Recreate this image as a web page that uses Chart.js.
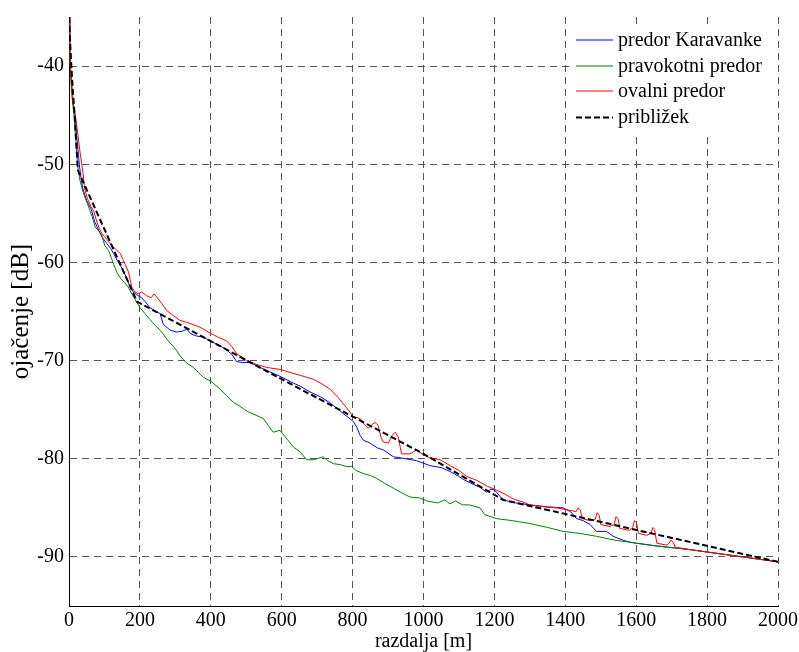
<!DOCTYPE html>
<html>
<head>
<meta charset="utf-8">
<script src="https://cdn.jsdelivr.net/npm/chart.js@4/dist/chart.umd.min.js"></script>
<style>
  html, body { margin: 0; padding: 0; background: #fff; }
  #wrap { width: 799px; height: 652px; }
</style>
</head>
<body>
<div id="wrap"><canvas id="c" width="799" height="652"></canvas></div>
<script>
// ---- data ----
const xTicks = [0, 200, 400, 600, 800, 1000, 1200, 1400, 1600, 1800, 2000];
const yTicks = [-90, -80, -70, -60, -50, -40];
const seriesLabels = ['predor Karavanke', 'pravokotni predor', 'ovalni predor', 'približek'];

const karavanke = [[0,-35],[2,-37.8],[5,-40.5],[10,-43],[17,-45.2],[23,-47.6],[29,-50],[34,-51.4],[39,-52.5],[50,-53.7],[63,-54.6],[72,-55.8],[82,-56.6],[93,-57.4],[107,-58.1],[118,-58.6],[126,-59.1],[136,-59.8],[145,-60.3],[155,-61.0],[165,-61.8],[172,-62.5],[181,-63.0],[191,-63.3],[205,-63.6],[215,-64.0],[228,-64.6],[245,-65.0],[257,-65.2],[266,-66.3],[285,-66.9],[304,-67.1],[320,-67.0],[332,-66.8],[345,-67.3],[360,-67.5],[379,-67.6],[398,-68.0],[426,-68.5],[445,-68.9],[460,-69.4],[473,-70.1],[490,-70.2],[511,-70.2],[539,-70.7],[570,-71.2],[595,-71.6],[633,-72.3],[652,-72.6],[680,-73.2],[710,-73.7],[736,-74.3],[774,-75.4],[802,-76.2],[812,-76.8],[821,-77.6],[830,-78.1],[849,-78.4],[870,-78.9],[887,-79.1],[915,-79.8],[934,-79.9],[981,-80.2],[1018,-80.7],[1050,-80.9],[1075,-81.3],[1100,-81.8],[1112,-82.1],[1140,-82.6],[1159,-82.9],[1178,-83.4],[1190,-83.1],[1201,-83.2],[1215,-83.8],[1225,-84.2],[1260,-84.5],[1300,-84.7],[1350,-84.9],[1394,-85.0],[1415,-85.4],[1432,-86.1],[1450,-86.3],[1470,-86.7],[1488,-87.4],[1516,-87.4],[1535,-87.9],[1563,-88.3],[1582,-88.5],[1600,-88.6],[1650,-88.85],[1700,-89.05],[1750,-89.25],[1800,-89.5],[1850,-89.75],[1900,-90.0],[1950,-90.25],[2000,-90.5]];

const pravokotni = [[0,-35],[2,-38.5],[4,-40.5],[8,-43],[14,-45],[19,-47.5],[24,-50],[30,-51.5],[37,-52.5],[45,-53.4],[57,-54.5],[65,-55.3],[74,-56.4],[84,-56.8],[93,-57.3],[101,-58.3],[112,-58.8],[120,-59.6],[126,-60.2],[135,-61.0],[145,-61.6],[155,-62.0],[167,-62.5],[177,-63.2],[190,-64.0],[200,-64.6],[214,-65.2],[228,-65.8],[240,-66.3],[257,-66.9],[266,-67.3],[280,-68.0],[295,-68.6],[304,-69.0],[313,-69.5],[330,-70.2],[351,-70.7],[365,-71.2],[379,-71.7],[400,-72.1],[426,-72.9],[445,-73.6],[465,-74.3],[480,-74.6],[495,-75.0],[510,-75.3],[530,-75.6],[548,-75.9],[562,-76.6],[576,-77.3],[595,-77.1],[615,-78.0],[633,-78.8],[652,-79.3],[670,-80.1],[689,-80.1],[700,-80.0],[717,-79.8],[730,-80.2],[746,-80.5],[765,-80.6],[783,-80.8],[797,-80.8],[810,-81.2],[830,-81.5],[850,-81.7],[868,-82.0],[890,-82.5],[915,-83.0],[940,-83.5],[962,-83.9],[990,-84.0],[1010,-84.3],[1040,-84.5],[1060,-84.2],[1075,-84.6],[1090,-84.3],[1110,-84.7],[1130,-84.7],[1159,-85.0],[1173,-85.7],[1206,-86.1],[1250,-86.3],[1300,-86.6],[1350,-87.0],[1394,-87.4],[1440,-87.6],[1488,-87.9],[1540,-88.3],[1582,-88.5],[1600,-88.6],[1650,-88.85],[1700,-89.05],[1750,-89.25],[1800,-89.5],[1850,-89.75],[1900,-90.0],[1950,-90.25],[2000,-90.5]];

const ovalni = [[0,-35],[2,-37.5],[4,-40],[8,-42.5],[12,-44],[18,-45],[25,-47],[30,-48.5],[36,-50],[40,-51],[44,-52.5],[52,-53.5],[62,-54.3],[70,-54.8],[78,-55.8],[86,-56.6],[95,-57.2],[101,-57.4],[112,-57.9],[121,-58.3],[133,-58.7],[145,-59.1],[152,-59.7],[159,-60.2],[168,-61.0],[177,-62.5],[186,-63.0],[195,-63.2],[205,-63.0],[219,-63.4],[232,-63.6],[240,-63.2],[247,-63.5],[262,-64.2],[276,-64.9],[290,-65.3],[313,-65.9],[340,-66.2],[370,-66.6],[398,-67.2],[420,-67.6],[445,-68.0],[460,-68.6],[473,-69.3],[501,-70.0],[530,-70.4],[558,-70.7],[595,-70.9],[623,-71.2],[652,-71.5],[689,-71.9],[710,-72.3],[736,-72.9],[760,-73.8],[783,-74.8],[802,-75.7],[821,-75.9],[835,-76.6],[844,-76.9],[855,-76.5],[863,-76.3],[872,-76.6],[880,-77.8],[887,-78.3],[901,-78.4],[912,-77.6],[920,-77.3],[929,-77.8],[938,-79.5],[962,-79.5],[981,-79.1],[1000,-79.6],[1018,-79.9],[1047,-80.1],[1075,-80.7],[1100,-81.2],[1122,-81.8],[1150,-82.2],[1180,-82.8],[1206,-83.2],[1230,-83.6],[1253,-84.1],[1280,-84.4],[1300,-84.7],[1340,-84.9],[1375,-85.0],[1404,-85.2],[1420,-85.3],[1430,-85.4],[1436,-85.0],[1442,-85.2],[1448,-86.1],[1470,-86.3],[1484,-86.2],[1490,-85.5],[1496,-85.8],[1500,-86.7],[1526,-86.9],[1538,-86.7],[1543,-85.9],[1549,-86.1],[1554,-87.1],[1582,-87.3],[1590,-87.0],[1595,-86.3],[1601,-86.5],[1606,-87.6],[1630,-87.8],[1642,-87.6],[1647,-87.0],[1652,-87.2],[1658,-88.6],[1686,-88.8],[1693,-88.6],[1698,-88.3],[1704,-88.5],[1710,-89.0],[1750,-89.25],[1800,-89.5],[1850,-89.75],[1900,-90.0],[1950,-90.25],[2000,-90.5]];

const priblizek = [[0,-35],[3,-37.5],[6.6,-40],[11,-42.6],[16,-45],[20,-47.6],[25,-50.6],[192,-64.0],[600,-71.9],[1000,-79.5],[1225,-84.2],[2000,-90.5]];

// ---- chart ----
const FONT = "'Liberation Serif', 'Times New Roman', serif";
const toPts = arr => arr.map(p => ({x: p[0], y: p[1]}));

const innerLegend = {
  id: 'innerLegend',
  afterDatasetsDraw(chart) {
    const ctx = chart.ctx;
    const ca = chart.chartArea;
    const bx = ca.right - 208, by = ca.top + 10, bw = 204, bh = 107;
    ctx.save();
    ctx.fillStyle = '#ffffff';
    ctx.fillRect(bx, by, bw, bh);
    ctx.font = '20px ' + FONT;
    ctx.textBaseline = 'middle';
    ctx.textAlign = 'left';
    const rowH = 25.7;
    chart.data.datasets.forEach((ds, i) => {
      const y = Math.round(by + 13 + i * rowH);
      ctx.save();
      ctx.beginPath();
      ctx.strokeStyle = ds.borderColor;
      ctx.lineWidth = ds.borderWidth;
      ctx.setLineDash(ds.borderDash || []);
      const yy = ds.borderWidth === 1 ? y : y + 0.5;
      ctx.moveTo(bx + 6, yy);
      ctx.lineTo(bx + 43, yy);
      ctx.stroke();
      ctx.restore();
      ctx.fillStyle = '#000';
      ctx.fillText(ds.label, bx + 48, y + 1);
    });
    ctx.restore();
  }
};

new Chart(document.getElementById('c'), {
  type: 'line',
  data: {
    datasets: [
      { label: seriesLabels[0], data: toPts(karavanke), borderColor: '#0000ff', borderWidth: 1, order: 3 },
      { label: seriesLabels[1], data: toPts(pravokotni), borderColor: '#008000', borderWidth: 1, order: 2 },
      { label: seriesLabels[2], data: toPts(ovalni), borderColor: '#ff0000', borderWidth: 1, order: 1 },
      { label: seriesLabels[3], data: toPts(priblizek), borderColor: '#000000', borderWidth: 2, borderDash: [6, 3], order: 0 }
    ]
  },
  options: {
    responsive: false,
    devicePixelRatio: 1,
    animation: false,
    elements: { point: { radius: 0 }, line: { tension: 0, fill: false } },
    layout: { padding: { left: 0, right: 21, top: 17, bottom: 0 } },
    plugins: { legend: { display: false }, tooltip: { enabled: false } },
    scales: {
      x: {
        type: 'linear',
        min: 0, max: 2000,
        afterBuildTicks: s => { s.ticks = xTicks.map(v => ({ value: v })); },
        afterFit: s => { s.height = 46; s.paddingLeft = 0; s.paddingRight = 0; },
        grid: { color: '#555555', lineWidth: 1, drawTicks: false },
        border: { display: true, color: '#000', width: 1, dash: [7, 5] },
        ticks: { color: '#000', font: { family: FONT, size: 20 }, padding: 3, maxRotation: 0, autoSkip: false,
                 callback: v => String(v) },
        title: { display: true, text: 'razdalja [m]', color: '#000', font: { family: FONT, size: 20, lineHeight: 1 }, padding: { top: 0, bottom: 0 } }
      },
      y: {
        type: 'linear',
        min: -95, max: -35,
        afterBuildTicks: s => { s.ticks = yTicks.map(v => ({ value: v })); },
        afterFit: s => { s.width = 69; s.paddingTop = 0; s.paddingBottom = 0; },
        grid: { color: '#555555', lineWidth: 1, drawTicks: false },
        border: { display: true, color: '#000', width: 1, dash: [7, 5] },
        ticks: { color: '#000', font: { family: FONT, size: 20 }, padding: 5, callback: v => String(v) },
        title: { display: true, text: 'ojačenje [dB]', color: '#000', font: { family: FONT, size: 25, lineHeight: 1 }, padding: { top: 9, bottom: 0 } }
      }
    }
  },
  plugins: [innerLegend]
});
</script>
</body>
</html>
